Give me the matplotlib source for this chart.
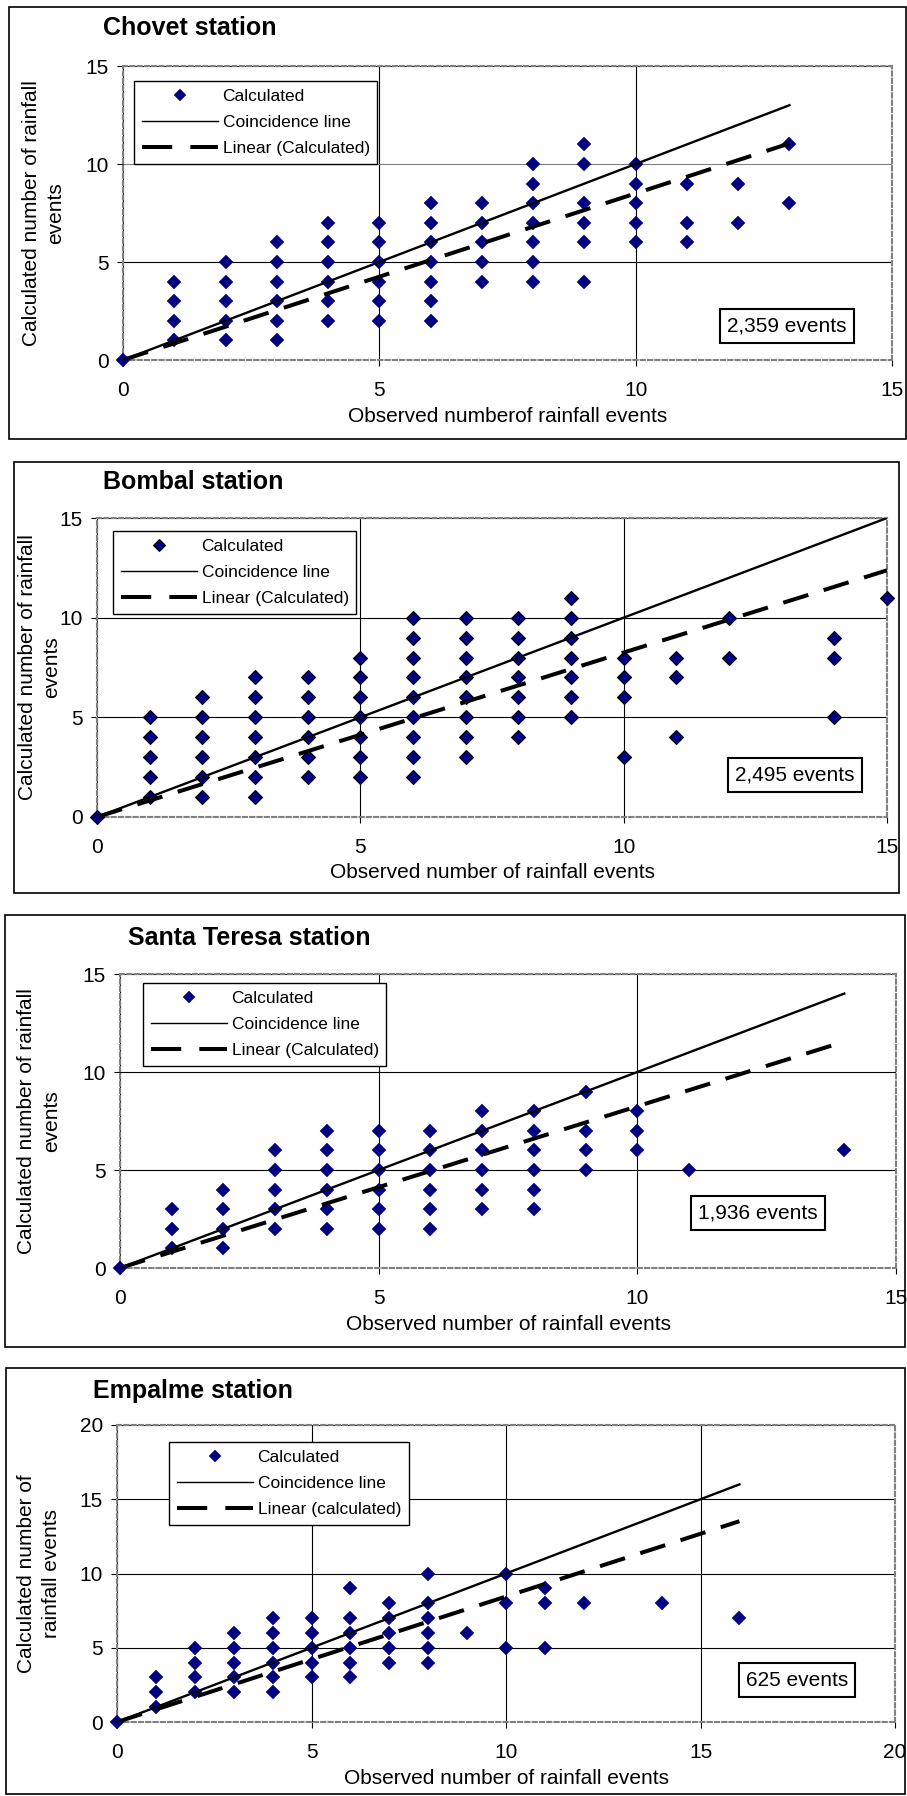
import numpy as np
import matplotlib.pyplot as plt
from matplotlib.patches import Rectangle

plt.rcParams['font.family'] = ['Liberation Sans', 'DejaVu Sans']

# station names and totals
stations = ['Chovet station', 'Bombal station', 'Santa Teresa station', 'Empalme station']
event_counts = ['2,359 events', '2,495 events', '1,936 events', '625 events']

# observed number of events -> calculated numbers found for it
chovet_points = {0: [0], 1: [1, 2, 3, 4], 2: [1, 2, 3, 4, 5], 3: [1, 2, 3, 4, 5, 6],
                 4: [2, 3, 4, 5, 6, 7], 5: [2, 3, 4, 5, 6, 7], 6: [2, 3, 4, 5, 6, 7, 8],
                 7: [4, 5, 6, 7, 8], 8: [4, 5, 6, 7, 8, 9, 10], 9: [4, 6, 7, 8, 10, 11],
                 10: [6, 7, 8, 9, 10], 11: [6, 7, 9], 12: [7, 9], 13: [8, 11]}
bombal_points = {0: [0], 1: [1, 2, 3, 4, 5], 2: [1, 2, 3, 4, 5, 6], 3: [1, 2, 3, 4, 5, 6, 7],
                 4: [2, 3, 4, 5, 6, 7], 5: [2, 3, 4, 5, 6, 7, 8], 6: [2, 3, 4, 5, 6, 7, 8, 9, 10],
                 7: [3, 4, 5, 6, 7, 8, 9, 10], 8: [4, 5, 6, 7, 8, 9, 10], 9: [5, 6, 7, 8, 9, 10, 11],
                 10: [3, 6, 7, 8], 11: [4, 7, 8], 12: [8, 10], 14: [5, 8, 9], 15: [11]}
santa_teresa_points = {0: [0], 1: [1, 2, 3], 2: [1, 2, 3, 4], 3: [2, 3, 4, 5, 6],
                       4: [2, 3, 4, 5, 6, 7], 5: [2, 3, 4, 5, 6, 7], 6: [2, 3, 4, 5, 6, 7],
                       7: [3, 4, 5, 6, 7, 8], 8: [3, 4, 5, 6, 7, 8], 9: [5, 6, 7, 9],
                       10: [6, 7, 8], 11: [5], 14: [6]}
empalme_points = {0: [0], 1: [1, 2, 3], 2: [2, 3, 4, 5], 3: [2, 3, 4, 5, 6],
                  4: [2, 3, 4, 5, 6, 7], 5: [3, 4, 5, 6, 7], 6: [3, 4, 5, 6, 7, 9],
                  7: [4, 5, 6, 7, 8], 8: [4, 5, 6, 7, 8, 10], 9: [6], 10: [5, 8, 10],
                  11: [5, 8, 9], 12: [8], 14: [8], 16: [7]}

# slopes of the linear trendlines (through the origin)
trend_slopes = [0.85, 0.825, 0.825, 0.845]
axis_max = [15, 15, 15, 20]

x_labels = ['Observed numberof rainfall events', 'Observed number of rainfall events',
            'Observed number of rainfall events', 'Observed number of rainfall events']
y_labels = ['Calculated number of rainfall\nevents', 'Calculated number of rainfall\nevents',
            'Calculated number of rainfall\nevents', 'Calculated number of\nrainfall events']
trend_labels = ['Linear (Calculated)', 'Linear (Calculated)', 'Linear (Calculated)',
                'Linear (calculated)']

all_points = [chovet_points, bombal_points, santa_teresa_points, empalme_points]

W, H = 907, 1796
fig = plt.figure(figsize=(W / 100, H / 100), dpi=100)

# pixel layout: plot area, outer box, title pos, legend top-left, events box centre, xlabel y, ylabel x
layout = [
    dict(plot=(123, 66, 892, 360), box=(9, 7, 906, 439), title=(103, 28), leg=(134, 81),
         ev=(787, 326), xl=417, yl=44),
    dict(plot=(97, 518, 887, 817), box=(14, 462, 899, 893), title=(103, 482), leg=(113, 531),
         ev=(795, 775), xl=873, yl=40),
    dict(plot=(120, 974, 896, 1268), box=(5, 915, 905, 1347), title=(128, 938), leg=(143, 983),
         ev=(758, 1213), xl=1325, yl=39),
    dict(plot=(117, 1425, 895, 1722), box=(6, 1368, 905, 1794), title=(93, 1391), leg=(169, 1442),
         ev=(797, 1680), xl=1778, yl=39),
]

for i, lay in enumerate(layout):
    l, t, r, b = lay['plot']
    ax = fig.add_axes([l / W, 1 - b / H, (r - l) / W, (b - t) / H])

    pts = all_points[i]
    xs = np.array([x for x in pts for _ in pts[x]], dtype=float)
    ys = np.array([y for x in pts for y in pts[x]], dtype=float)
    edge = 'black' if i == 1 else '#000080'
    h1, = ax.plot(xs, ys, 'D', color='#000080', markeredgecolor=edge,
                  markeredgewidth=0.8 if i == 1 else 0.3, markersize=7.4,
                  linestyle='none', label='Calculated', zorder=3, clip_on=False)

    xmax = xs.max()
    line_x = np.array([0, xmax])
    h2, = ax.plot(line_x, line_x, color='black', lw=1.7, label='Coincidence line', zorder=4)
    h3, = ax.plot(line_x, trend_slopes[i] * line_x, color='black', lw=2.9,
                  dashes=(6.5, 4), label=trend_labels[i], zorder=4)

    m = axis_max[i]
    ax.set_xlim(0, m)
    ax.set_ylim(0, m)
    ax.set_xticks(np.arange(0, m + 1, 5))
    ax.set_yticks(np.arange(0, m + 1, 5))
    ax.grid(True, color='black', lw=0.8)
    ax.set_axisbelow(True)
    if i == 0:
        ax.get_ygridlines()[2].set_color('#808080')
    ax.tick_params(direction='out', length=4, width=0.8, labelsize=15)
    ax.tick_params(axis='x', pad=11)
    ax.tick_params(axis='y', pad=6)
    for sp in ax.spines.values():
        sp.set_color('#808080')
        sp.set_linestyle((0, (2, 1.5)))
        sp.set_linewidth(1.5)

    ax.set_xlabel(x_labels[i], fontsize=15, va='center')
    ax.xaxis.set_label_coords(0.5, -(lay['xl'] - b) / (b - t))
    ax.set_ylabel(y_labels[i], fontsize=15, va='center', ha='center',
                  multialignment='center', linespacing=1.35)
    ax.yaxis.set_label_coords((lay['yl'] - l) / (r - l), 0.5)

    lx, ly = lay['leg']
    leg = ax.legend(handles=[h1, h2, h3], loc='upper left', bbox_to_anchor=(lx / W, 1 - ly / H),
                    bbox_transform=fig.transFigure, borderaxespad=0, fontsize=12.5,
                    handlelength=4.4, handletextpad=0.25, borderpad=0.45, labelspacing=0.62,
                    numpoints=1, markerscale=0.85, fancybox=False, framealpha=1,
                    edgecolor='black')
    leg.get_lines()[1].set_linewidth(1.0)
    leg.get_lines()[2].set_dashes((7.5, 4.5))

    ex, ey = lay['ev']
    fig.text(ex / W, 1 - ey / H, event_counts[i], fontsize=15, ha='center', va='center',
             bbox=dict(boxstyle='square,pad=0.35', fc='white', ec='black', lw=1.5))

    tx, ty = lay['title']
    fig.text(tx / W, 1 - ty / H, stations[i], fontsize=18, fontweight='bold',
             ha='left', va='center')

    bl, bt, br, bb = lay['box']
    fig.add_artist(Rectangle((bl / W, 1 - bb / H), (br - bl) / W, (bb - bt) / H,
                             transform=fig.transFigure, fill=False, ec='black', lw=1.2))

fig.savefig('out.png', dpi=100)
